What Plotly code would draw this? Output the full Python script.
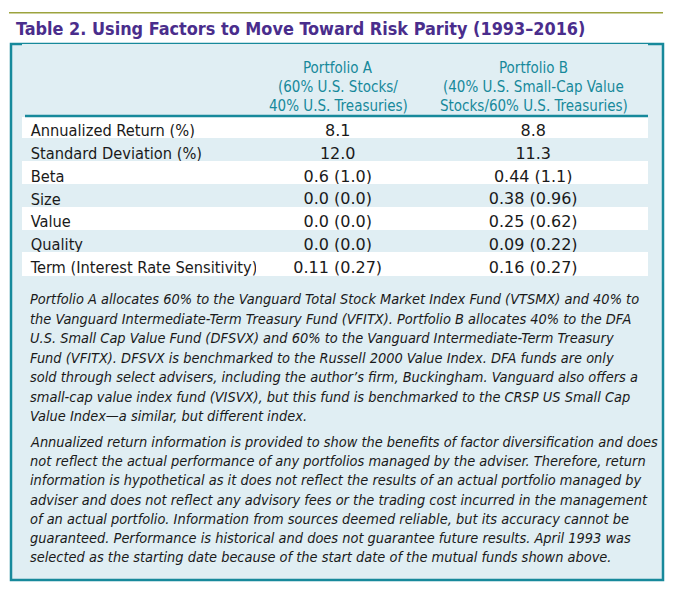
import plotly.graph_objects as go

W, H = 673, 590

# ---- data ----
title = "Table 2. Using Factors to Move Toward Risk Parity (1993–2016)"
col_headers = [
    ["Portfolio A", "(60% U.S. Stocks/", "40% U.S. Treasuries)"],
    ["Portfolio B", "(40% U.S. Small-Cap Value", "Stocks/60% U.S. Treasuries)"],
]
row_labels = ["Annualized Return (%)", "Standard Deviation (%)", "Beta", "Size",
              "Value", "Quality", "Term (Interest Rate Sensitivity)"]
portfolio_a = ["8.1", "12.0", "0.6 (1.0)", "0.0 (0.0)", "0.0 (0.0)", "0.0 (0.0)", "0.11 (0.27)"]
portfolio_b = ["8.8", "11.3", "0.44 (1.1)", "0.38 (0.96)", "0.25 (0.62)", "0.09 (0.22)", "0.16 (0.27)"]

note_1 = [
    "Portfolio A allocates 60% to the Vanguard Total Stock Market Index Fund (VTSMX) and 40% to",
    "the Vanguard Intermediate-Term Treasury Fund (VFITX). Portfolio B allocates 40% to the DFA",
    "U.S. Small Cap Value Fund (DFSVX) and 60% to the Vanguard Intermediate-Term Treasury",
    "Fund (VFITX). DFSVX is benchmarked to the Russell 2000 Value Index. DFA funds are only",
    "sold through select advisers, including the author’s firm, Buckingham. Vanguard also offers a",
    "small-cap value index fund (VISVX), but this fund is benchmarked to the CRSP US Small Cap",
    "Value Index—a similar, but different index.",
]
note_2 = [
    "Annualized return information is provided to show the benefits of factor diversification and does",
    "not reflect the actual performance of any portfolios managed by the adviser. Therefore, return",
    "information is hypothetical as it does not reflect the results of an actual portfolio managed by",
    "adviser and does not reflect any advisory fees or the trading cost incurred in the management",
    "of an actual portfolio. Information from sources deemed reliable, but its accuracy cannot be",
    "guaranteed. Performance is historical and does not guarantee future results. April 1993 was",
    "selected as the starting date because of the start date of the mutual funds shown above.",
]

# colours
teal = "#17899b"
light = "#e0eef3"
purple = "#4a2d8c"
olive = "#9ca33e"


def px(x):
    return x / W


def py(y):
    return 1 - y / H


stripe = ["white" if i % 2 == 0 else light for i in range(len(row_labels))]
# keep the long label on one line (plotly wraps table text at spaces)
labels_nowrap = [s.replace(" ", "\u00a0") for s in row_labels]

fig = go.Figure()

fig.add_trace(go.Table(
    domain=dict(x=[px(22.7), px(647.7)], y=[py(283), py(44)]),
    columnwidth=[234, 162, 229],
    header=dict(
        values=["", "", ""],
        height=72,
        fill=dict(color=light),
        line=dict(color=light, width=1),
    ),
    cells=dict(
        values=[labels_nowrap, portfolio_a, portfolio_b],
        align=["left", "center", "center"],
        height=22.8,
        fill=dict(color=[stripe] * 3),
        line=dict(color=[stripe] * 3, width=1),
        font=dict(family=["DejaVu Sans Condensed", "DejaVu Sans", "DejaVu Sans"],
                  size=[16.3, 16, 16], color="#1a1a1a"),
    ),
))

shapes = [
    # olive rule above the title
    dict(type="line", xref="paper", yref="paper", x0=px(9), x1=px(663), y0=py(12.7), y1=py(12.7),
         line=dict(color=olive, width=1.5)),
    # panel
    dict(type="rect", xref="paper", yref="paper", x0=px(11), x1=px(663), y0=py(580), y1=py(44),
         line=dict(color=teal, width=2.5), fillcolor=light, layer="below"),
    # rule under the header
    dict(type="line", xref="paper", yref="paper", x0=px(25), x1=px(648), y0=py(116), y1=py(116),
         line=dict(color=teal, width=2.5)),
]

annotations = [
    dict(text="<b>" + title + "</b>", x=px(14), y=py(28), xanchor="left", yanchor="middle",
         font=dict(family="DejaVu Sans Condensed, DejaVu Sans", size=17.9, color=purple)),
]

for cx, lines in zip([338, 533.5], col_headers):
    for i, line in enumerate(lines):
        annotations.append(dict(text=line, x=px(cx), y=py(67.7 + 19 * i), xanchor="center", yanchor="middle",
                                font=dict(family="DejaVu Sans Condensed, DejaVu Sans", size=15, color=teal)))

for y0, lines, step in [(299, note_1, 19.5), (442, note_2, 19.2)]:
    for i, line in enumerate(lines):
        annotations.append(dict(text=line, x=px(28), y=py(y0 + step * i), xanchor="left", yanchor="middle",
                                font=dict(family="DejaVu Sans Condensed, DejaVu Sans", size=14.45,
                                          color="#1a1a1a", style="italic")))

for a in annotations:
    a.update(xref="paper", yref="paper", showarrow=False)

fig.update_layout(
    width=W, height=H,
    margin=dict(l=0, r=0, t=0, b=0),
    paper_bgcolor="white",
    plot_bgcolor="white",
    shapes=shapes,
    annotations=annotations,
)

fig.write_html("out.html", config={"displayModeBar": False},
               post_script="document.body.style.margin='0px';")
